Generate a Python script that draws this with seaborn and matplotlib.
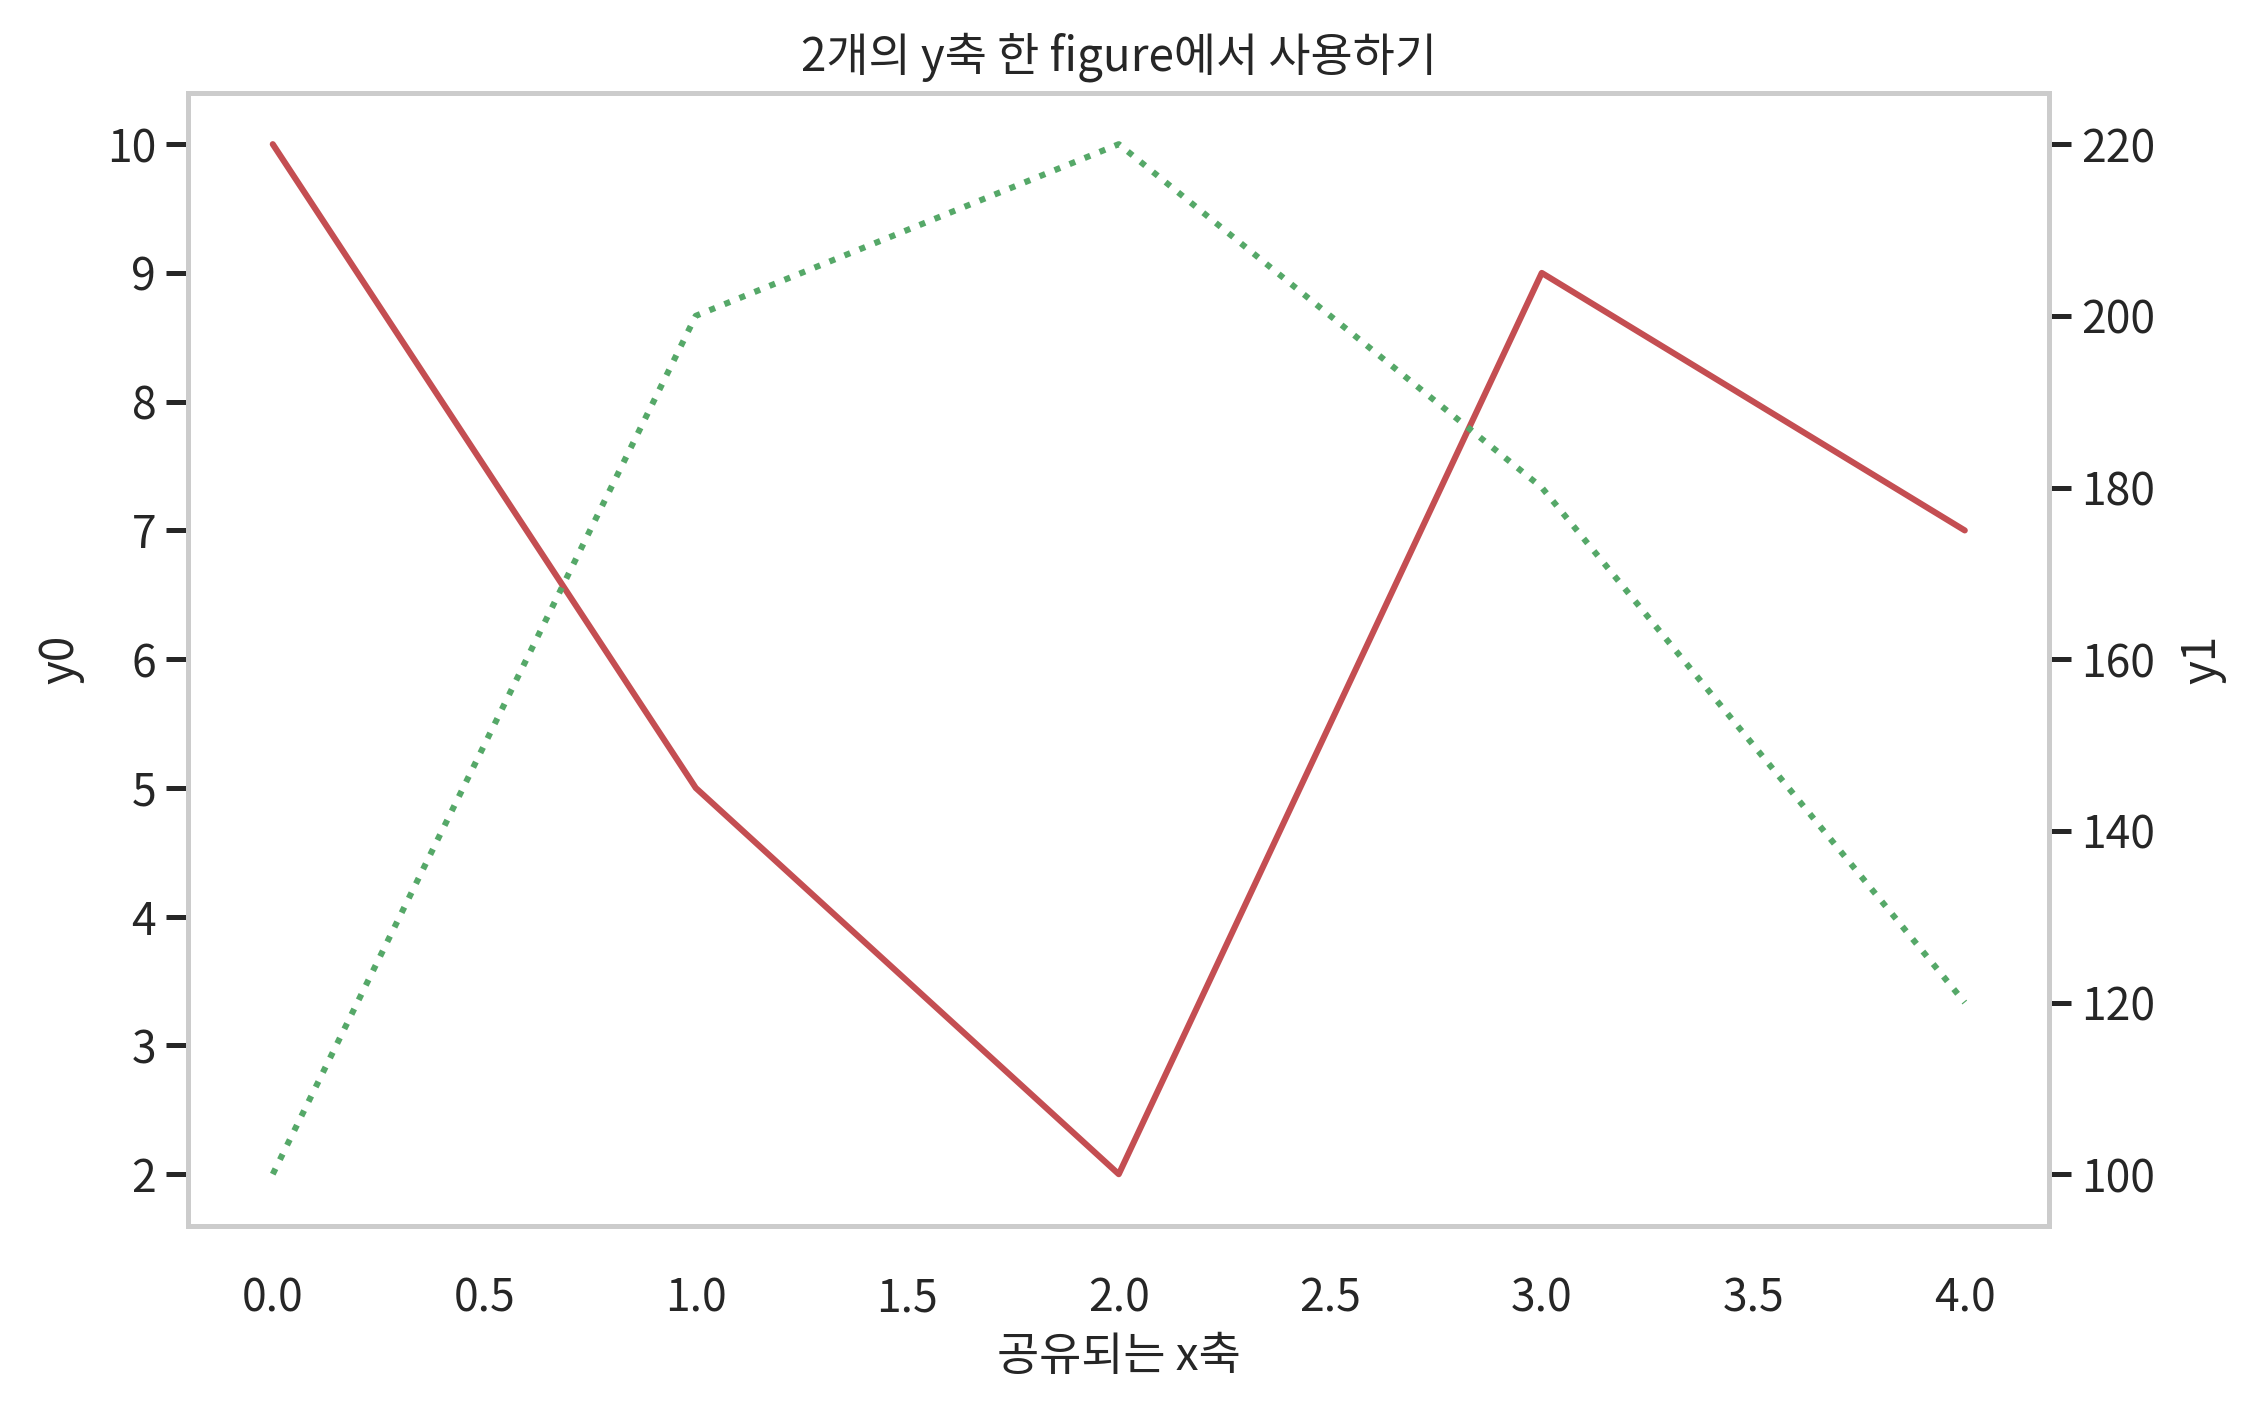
import seaborn as sns
import matplotlib.pyplot as plt
import pandas as pd

x = [0, 1, 2, 3, 4]
y0 = [10, 5, 2, 9, 7]
y1 = [100, 200, 220, 180, 120]

sns.set_theme(style='whitegrid')
plt.rcParams['font.family'] = ['Noto Sans CJK KR', 'DejaVu Sans']
plt.rcParams['axes.unicode_minus'] = False

dat = pd.DataFrame({'x': x, 'y0': y0, 'y1': y1})
red, green = sns.color_palette('deep')[3], sns.color_palette('deep')[2]

fig, ax0 = plt.subplots(figsize=(11.335, 7.02), dpi=200)
sns.lineplot(x='x', y='y0', data=dat, ax=ax0, color=red, lw=2.2)
ax0.grid(False)
ax0.set_title('2개의 y축 한 figure에서 사용하기', fontsize=16.5, pad=8)
ax0.set_xlabel('공유되는 x축', fontsize=16.5, labelpad=4)
ax0.set_ylabel('y0', fontsize=16.5, labelpad=8)
ax0.tick_params(axis='y', left=True, length=8, width=1.8, color='.15', labelsize=16)
ax0.tick_params(axis='x', labelsize=16, pad=12)

ax1 = ax0.twinx()
sns.lineplot(x='x', y='y1', data=dat, ax=ax1, color=green, lw=2.2, linestyle=':')
ax1.grid(False)
ax1.set_ylabel('y1', fontsize=16.5, labelpad=8)
ax1.tick_params(axis='y', right=True, length=8, width=1.8, color='.15', labelsize=16)
ax1.set_yticks([100, 120, 140, 160, 180, 200, 220])

for a in (ax0, ax1):
    for s in a.spines.values():
        s.set_color('.8')
        s.set_linewidth(1.8)

fig.subplots_adjust(left=0.083, right=0.904, top=0.934, bottom=0.127)
fig.savefig('out.png', dpi=200)
